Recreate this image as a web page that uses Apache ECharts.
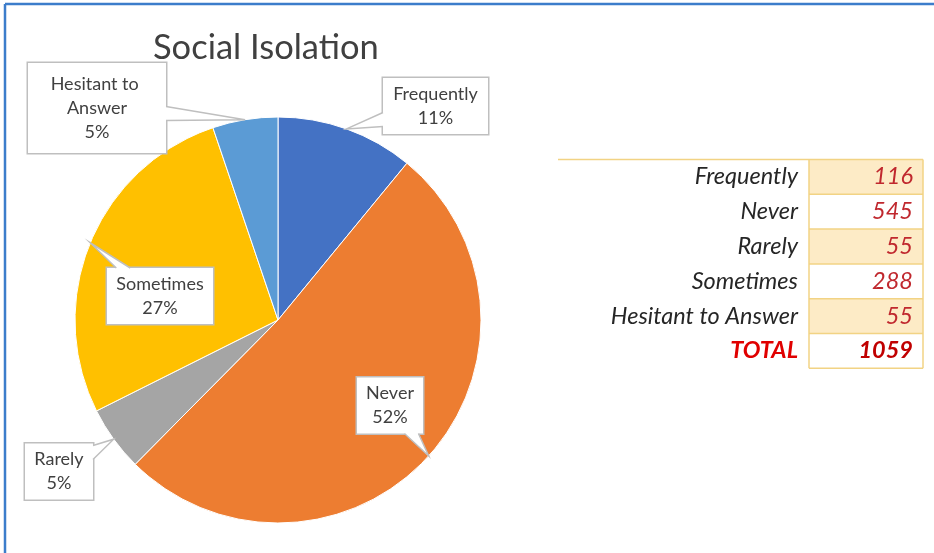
<!DOCTYPE html>
<html>
<head>
<meta charset="utf-8">
<script src="https://cdn.jsdelivr.net/npm/echarts@6/dist/echarts.min.js"></script>
<style>
html,body{margin:0;padding:0;background:#fff;}
#chart{width:934px;height:553px;}
</style>
</head>
<body>
<div id="chart"></div>
<script>
// ---- data ----
const categories = ['Frequently', 'Never', 'Rarely', 'Sometimes', 'Hesitant to Answer'];
const counts = [116, 545, 55, 288, 55];
const sliceColors = ['#4472C4', '#ED7D31', '#A5A5A5', '#FFC000', '#5B9BD5'];
const chartTitle = 'Social Isolation';
const totalLabel = 'TOTAL';

// ---- layout (styling, not data) ----
const CX = 278, CY = 320, R = 203;
const boxes = [
  {cx: 435.5, cy: 106, w: 105, padV: 4, padH: 0},
  {cx: 390, cy: 405.5, w: 66, padV: 4, padH: 0},
  {cx: 59, cy: 471.5, w: 68, padV: 4, padH: 0},
  {cx: 160, cy: 296, w: 106, padV: 4, padH: 0},
  {cx: 97, cy: 108, w: 120, padV: 9, padH: 9}
];
const LH = 24;
const labelFont = 'Lato, "Noto Sans", sans-serif';

const chart = echarts.init(document.getElementById('chart'));

const total = counts.reduce((a, b) => a + b, 0);

// Callout tails computed from data angles
function tailElements() {
  const els = [];
  let acc = 0;
  counts.forEach((v, i) => {
    const mid = (acc + v / 2) / total * Math.PI * 2;
    acc += v;
    const tip = [CX + R * Math.sin(mid), CY - R * Math.cos(mid)];
    const b = boxes[i];
    const nLines = (i === 4) ? 3 : 2;
    const hw = (b.w + 2 * b.padH) / 2;
    const hh = (nLines * LH + 2 * b.padV) / 2;
    const dx = tip[0] - b.cx, dy = tip[1] - b.cy;
    const tx = Math.abs(dx) > 0 ? hw / Math.abs(dx) : Infinity;
    const ty = Math.abs(dy) > 0 ? hh / Math.abs(dy) : Infinity;
    const t = Math.min(tx, ty);
    const p = [b.cx + dx * t, b.cy + dy * t];
    let a1, a2, i1, i2;
    const half = 7;
    if (tx < ty) {
      const sgn = dx > 0 ? 1 : -1;
      const y1 = Math.max(b.cy - hh + 2, Math.min(b.cy + hh - 2 - 2 * half, p[1] - half));
      a1 = [p[0], y1]; a2 = [p[0], y1 + 2 * half];
      i1 = [p[0] - sgn * 2, y1]; i2 = [p[0] - sgn * 2, y1 + 2 * half];
    } else {
      const sgn = dy > 0 ? 1 : -1;
      const x1 = Math.max(b.cx - hw + 2, Math.min(b.cx + hw - 2 - 2 * half, p[0] - half));
      a1 = [x1, p[1]]; a2 = [x1 + 2 * half, p[1]];
      i1 = [x1, p[1] - sgn * 2]; i2 = [x1 + 2 * half, p[1] - sgn * 2];
    }
    els.push({type: 'polygon', z: 100, shape: {points: [i1, a1, tip, a2, i2]}, style: {fill: '#fff', stroke: null}});
    els.push({type: 'polyline', z: 101, shape: {points: [a1, tip, a2]}, style: {stroke: '#BFBFBF', lineWidth: 1.5, fill: null}});
  });
  return els;
}

function tableElements() {
  const els = [];
  const x0 = 558, xc = 809, x1 = 923, y0 = 159.5, rh = 34.8;
  const gold = '#F2D384';
  const fill = '#FDEBC6';
  const rows = categories.length + 1;
  for (let i = 0; i < categories.length; i++) {
    if (i % 2 === 0) {
      els.push({type: 'rect', z: 5, shape: {x: xc, y: y0 + i * rh, width: x1 - xc, height: rh}, style: {fill: fill}});
    }
  }
  els.push({type: 'line', z: 6, shape: {x1: x0, y1: y0, x2: x1, y2: y0}, style: {stroke: gold, lineWidth: 1.5}});
  for (let i = 1; i <= rows; i++) {
    els.push({type: 'line', z: 6, shape: {x1: xc, y1: y0 + i * rh, x2: x1, y2: y0 + i * rh}, style: {stroke: gold, lineWidth: 1.5}});
  }
  els.push({type: 'line', z: 6, shape: {x1: xc, y1: y0, x2: xc, y2: y0 + rows * rh}, style: {stroke: gold, lineWidth: 1.5}});
  els.push({type: 'line', z: 6, shape: {x1: x1, y1: y0, x2: x1, y2: y0 + rows * rh}, style: {stroke: gold, lineWidth: 1.5}});
  const names = categories.concat([totalLabel]);
  const vals = counts.concat([total]);
  names.forEach((n, i) => {
    const yc = y0 + (i + 0.5) * rh;
    const isTot = i === names.length - 1;
    els.push({type: 'text', z: 7, style: {
      text: n, x: 798, y: yc, textAlign: 'right', textVerticalAlign: 'middle',
      font: (isTot ? 'italic bold ' : 'italic ') + '23.5px ' + labelFont,
      fill: isTot ? '#E00000' : '#262626'
    }});
    els.push({type: 'text', z: 7, style: {
      text: String(vals[i]), x: 913, y: yc, textAlign: 'right', textVerticalAlign: 'middle',
      font: (isTot ? 'italic bold ' : 'italic ') + '23.5px ' + labelFont,
      fill: isTot ? '#C00000' : '#C0282E'
    }});
  });
  return els;
}

const frame = [
  {type: 'line', z: 50, shape: {x1: 5, y1: 4, x2: 934, y2: 4}, style: {stroke: '#3C7DCB', lineWidth: 2.5}},
  {type: 'line', z: 50, shape: {x1: 5, y1: 4, x2: 5, y2: 553}, style: {stroke: '#3C7DCB', lineWidth: 2.5}}
];

chart.setOption({
  animation: false,
  title: {
    text: chartTitle, left: 153, top: 30, padding: 0,
    textStyle: {fontFamily: labelFont, fontSize: 34.5, fontWeight: 'normal', color: '#404040'}
  },
  graphic: {elements: frame.concat(tableElements(), tailElements())},
  series: [{
    type: 'pie',
    center: [CX, CY],
    radius: R,
    startAngle: 90,
    clockwise: true,
    percentPrecision: 0,
    avoidLabelOverlap: false,
    itemStyle: {borderColor: '#fff', borderWidth: 1},
    labelLine: {show: false},
    label: {
      show: true,
      position: 'outside',
      formatter: '{b}\n{d}%',
      fontFamily: labelFont,
      fontSize: 18,
      lineHeight: LH,
      color: '#404040',
      backgroundColor: '#fff',
      borderColor: '#BFBFBF',
      borderWidth: 1.5,
      align: 'center',
      overflow: 'break'
    },
    labelLayout: function (params) {
      const b = boxes[params.dataIndex];
      return {x: b.cx, y: b.cy, align: 'center', verticalAlign: 'middle'};
    },
    emphasis: {disabled: true},
    data: categories.map((c, i) => ({
      name: c, value: counts[i],
      itemStyle: {color: sliceColors[i]},
      label: {width: boxes[i].w, padding: [boxes[i].padV, boxes[i].padH]}
    }))
  }]
});
</script>
</body>
</html>
